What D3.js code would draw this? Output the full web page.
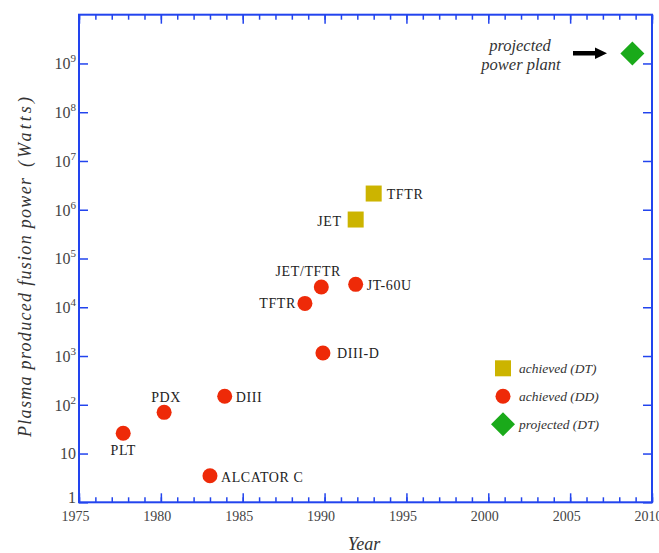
<!DOCTYPE html>
<html>
<head>
<meta charset="utf-8">
<script src="https://cdn.jsdelivr.net/npm/d3@7"></script>
<style>
  body { margin: 0; background: #fff; }
  text { font-family: "Liberation Serif", "DejaVu Serif", serif; }
</style>
</head>
<body>
<svg id="chart" width="659" height="553"></svg>
<script>
// Data
const names = ["PLT", "PDX", "ALCATOR C", "DIII", "TFTR", "JET/TFTR", "DIII-D", "JT-60U", "JET", "TFTR", "projected"];
const years = [1977.7, 1980.2, 1983.0, 1983.9, 1988.8, 1989.8, 1989.9, 1991.9, 1991.9, 1993.0, 2008.8];
const watts = [26, 70, 3.5, 150, 1.2e4, 2.6e4, 1150, 2.95e4, 6.3e5, 2.15e6, 1.6e9];
const kinds = ["DD", "DD", "DD", "DD", "DD", "DD", "DD", "DD", "DT", "DT", "proj"];

const yearTicks = d3.range(1975, 2011, 5);
const yearMinor = d3.range(1975, 2011, 1);
const decadeTicks = d3.range(0, 10).map(e => Math.pow(10, e));

const legendKinds = ["DT", "DD", "proj"];
const legendLabels = ["achieved (DT)", "achieved (DD)", "projected (DT)"];

// label placement next to each point: [dx, dy, anchor]
const labelPos = [
  [0, 22, "middle"], [2, -10, "middle"], [11, 6, "start"], [11, 6, "start"],
  [-9, 5, "end"], [-13, -11, "middle"], [14, 5, "start"], [11, 6, "start"],
  [-14, 6, "end"], [13, 5, "start"], null
];

const blue = "#2244ee";
const colors = { DD: "#ee2a08", DT: "#ccb400", proj: "#1aaa1a" };

const svg = d3.select("#chart");
const mLeft = 79, mRight = 652, mTop = 14.7, mBottom = 502.3;

const x = d3.scaleLinear().domain([1975, 2010]).range([mLeft, mRight]);
const y = d3.scaleLog().domain([1, 1e10]).range([mBottom, mTop]);

function styleAxis(g) {
  g.select(".domain").remove();
  g.selectAll("line").attr("stroke", blue).attr("stroke-width", 1.5);
  g.attr("font-family", null).attr("font-size", null);
}

// minor year ticks (bottom + top)
svg.append("g").attr("transform", `translate(0,${mBottom})`)
  .call(d3.axisBottom(x).tickValues(yearMinor).tickSize(-5).tickFormat(""))
  .call(styleAxis);
svg.append("g").attr("transform", `translate(0,${mTop})`)
  .call(d3.axisTop(x).tickValues(yearMinor).tickSize(-5).tickFormat(""))
  .call(styleAxis);

// major year ticks with labels
const xAxisG = svg.append("g").attr("transform", `translate(0,${mBottom})`)
  .call(d3.axisBottom(x).tickValues(yearTicks).tickSize(-9).tickPadding(9).tickFormat(d3.format("d")))
  .call(styleAxis);
xAxisG.selectAll("text")
  .attr("dx", -4)
  .style("font-size", "14px")
  .attr("fill", "#444");
svg.append("g").attr("transform", `translate(0,${mTop})`)
  .call(d3.axisTop(x).tickValues(yearTicks).tickSize(-9).tickFormat(""))
  .call(styleAxis);

// y axis, decades
const yAxisG = svg.append("g").attr("transform", `translate(${mLeft},0)`)
  .call(d3.axisLeft(y).tickValues(decadeTicks).tickSize(-9).tickPadding(3).tickFormat(""))
  .call(styleAxis);
yAxisG.selectAll(".tick text").each(function(d) {
  const e = Math.round(Math.log10(d));
  const t = d3.select(this)
    .attr("x", -3).attr("dy", "0.34em")
    .attr("text-anchor", "end")
    .attr("fill", "#444")
    .style("font-size", "16px");
  if (e === 0) t.attr("y", -5).text("1");   // lifted clear of the year labels
  else if (e === 1) t.text("10");
  else {
    t.append("tspan").text("10");
    t.append("tspan").attr("dy", -7).style("font-size", "11px").text(e);
  }
});
svg.append("g").attr("transform", `translate(${mRight},0)`)
  .call(d3.axisRight(y).tickValues(decadeTicks).tickSize(-9).tickFormat(""))
  .call(styleAxis);

// frame
svg.append("rect")
  .attr("x", mLeft).attr("y", mTop)
  .attr("width", mRight - mLeft).attr("height", mBottom - mTop)
  .attr("fill", "none").attr("stroke", blue).attr("stroke-width", 2);

// markers
function drawMarker(sel, kind) {
  if (kind === "DD") {
    sel.append("circle").attr("r", 7.5).attr("fill", colors.DD);
  } else if (kind === "DT") {
    sel.append("rect").attr("x", -8).attr("y", -8).attr("width", 16).attr("height", 16).attr("fill", colors.DT);
  } else {
    sel.append("path").attr("d", "M0,-12L12,0L0,12L-12,0Z").attr("fill", colors.proj);
  }
}

const points = svg.append("g").selectAll("g")
  .data(names.map((n, i) => ({ name: n, year: years[i], w: watts[i], kind: kinds[i], lab: labelPos[i] })))
  .join("g")
    .attr("transform", d => `translate(${x(d.year)},${y(d.w)})`);
points.each(function(d) { drawMarker(d3.select(this), d.kind); });

points.filter(d => d.lab)
  .append("text")
    .attr("x", d => d.lab[0])
    .attr("y", d => d.lab[1])
    .attr("text-anchor", d => d.lab[2])
    .attr("fill", "#222")
    .style("font-size", "14px")
    .style("letter-spacing", "0.6px")
    .text(d => d.name);

// projected power plant annotation
const ann = svg.append("g");
ann.append("text").attr("x", 520).attr("y", 50.5).attr("text-anchor", "middle")
  .style("font-size", "16.5px").style("font-style", "italic").attr("fill", "#333").text("projected");
ann.append("text").attr("x", 521).attr("y", 70).attr("text-anchor", "middle")
  .style("font-size", "16.5px").style("font-style", "italic").attr("fill", "#333").text("power plant");
ann.append("path")
  .attr("d", "M573,51L595,51L595,47.5L607,53.3L595,59L595,55.5L573,55.5Z")
  .attr("fill", "#000");

// legend
const legend = svg.append("g").selectAll("g")
  .data(legendKinds)
  .join("g")
    .attr("transform", (d, i) => `translate(503,${368.3 + i * 28})`);
legend.each(function(d) { drawMarker(d3.select(this), d); });
legend.append("text")
  .attr("x", 16).attr("y", 5)
  .style("font-size", "13.5px").style("font-style", "italic")
  .attr("fill", "#333")
  .text((d, i) => legendLabels[i]);

// axis titles
svg.append("text")
  .attr("x", 364).attr("y", 550).attr("text-anchor", "middle")
  .style("font-size", "18px").style("font-style", "italic").attr("fill", "#333")
  .text("Year");

svg.append("text")
  .attr("transform", "translate(31,307.5) rotate(-90)")
  .attr("text-anchor", "middle")
  .attr("textLength", 259).attr("lengthAdjust", "spacing")
  .style("font-size", "18px").style("font-style", "italic").attr("fill", "#333")
  .text("Plasma produced fusion power");
svg.append("text")
  .attr("transform", "translate(31,132) rotate(-90)")
  .attr("text-anchor", "middle")
  .attr("textLength", 70).attr("lengthAdjust", "spacing")
  .style("font-size", "18px").style("font-style", "italic").attr("fill", "#333")
  .text("(Watts)");
</script>
</body>
</html>
